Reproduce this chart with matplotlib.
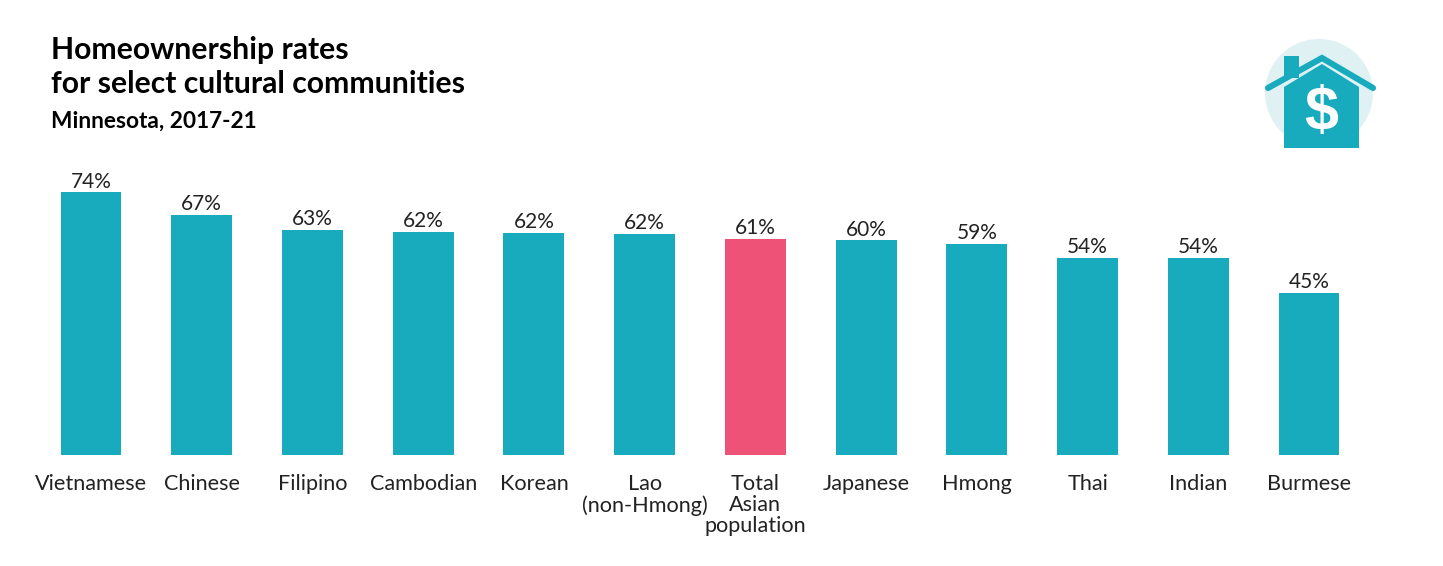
import matplotlib
matplotlib.use("Agg")
import matplotlib.pyplot as plt
from matplotlib.patches import Circle, Rectangle, Polygon

plt.rcParams["font.family"] = ["Lato", "DejaVu Sans"]

categories = ["Vietnamese", "Chinese", "Filipino", "Cambodian", "Korean", "Lao\n(non-Hmong)",
              "Total\nAsian\npopulation", "Japanese", "Hmong", "Thai", "Indian", "Burmese"]
# bar heights as measured, the printed labels are kept separately
values = [73.0, 66.7, 62.5, 62.0, 61.8, 61.5, 60.1, 59.6, 58.6, 54.7, 54.7, 45.1]
labels = ["74%", "67%", "63%", "62%", "62%", "62%", "61%", "60%", "59%", "54%", "54%", "45%"]
teal = "#17ABBD"
pink = "#EE5277"
colors = [pink if c.startswith("Total") else teal for c in categories]

W, H = 1443, 566
fig = plt.figure(figsize=(W / 100, H / 100), dpi=100)

# bars
ax = fig.add_axes([35.6 / W, (H - 455) / H, 1328.8 / W, 288 / H])
x = list(range(len(categories)))
ax.bar(x, values, width=0.55, color=colors)
ax.set_xlim(-0.5, 11.5)
ax.set_ylim(0, 80)
ax.set_yticks([])
ax.set_xticks(x)
ax.set_xticklabels(categories, fontsize=15.6, color="#222222", linespacing=1.05)
ax.tick_params(axis="x", length=0, pad=14)
for s in ax.spines.values():
    s.set_visible(False)
for i, v in enumerate(values):
    ax.annotate(labels[i], (i, v), xytext=(0, 0.5), textcoords="offset points",
                ha="center", va="bottom", fontsize=15, color="#222222")

# overlay in pixel coordinates for titles and the icon
ov = fig.add_axes([0, 0, 1, 1], facecolor="none")
ov.set_xlim(0, W)
ov.set_ylim(H, 0)
ov.axis("off")
ov.text(51, 50, "Homeownership rates", fontsize=21.7, fontweight="bold", color="black", va="center")
ov.text(51, 84, "for select cultural communities", fontsize=21.7, fontweight="bold", color="black", va="center")
ov.text(51, 121, "Minnesota, 2017-21", fontsize=16.3, fontweight="bold", color="black", va="center")

# house icon
ov.add_patch(Circle((1319, 93), 54, color="#DFF1F3", lw=0))
ov.add_patch(Rectangle((1284, 56), 15, 22, color=teal, lw=0))
ov.add_patch(Polygon([(1284, 148), (1284, 87), (1322, 64), (1359, 87), (1359, 148)], color=teal, lw=0))
ov.plot([1268, 1322, 1373], [88, 58, 88], color=teal, lw=4.4, solid_capstyle="round", solid_joinstyle="miter")
ov.text(1321, 114, "$", fontsize=44, fontweight="bold", color="white", ha="center", va="center",
        family=["Liberation Sans"])

fig.savefig("out.png", dpi=100)
